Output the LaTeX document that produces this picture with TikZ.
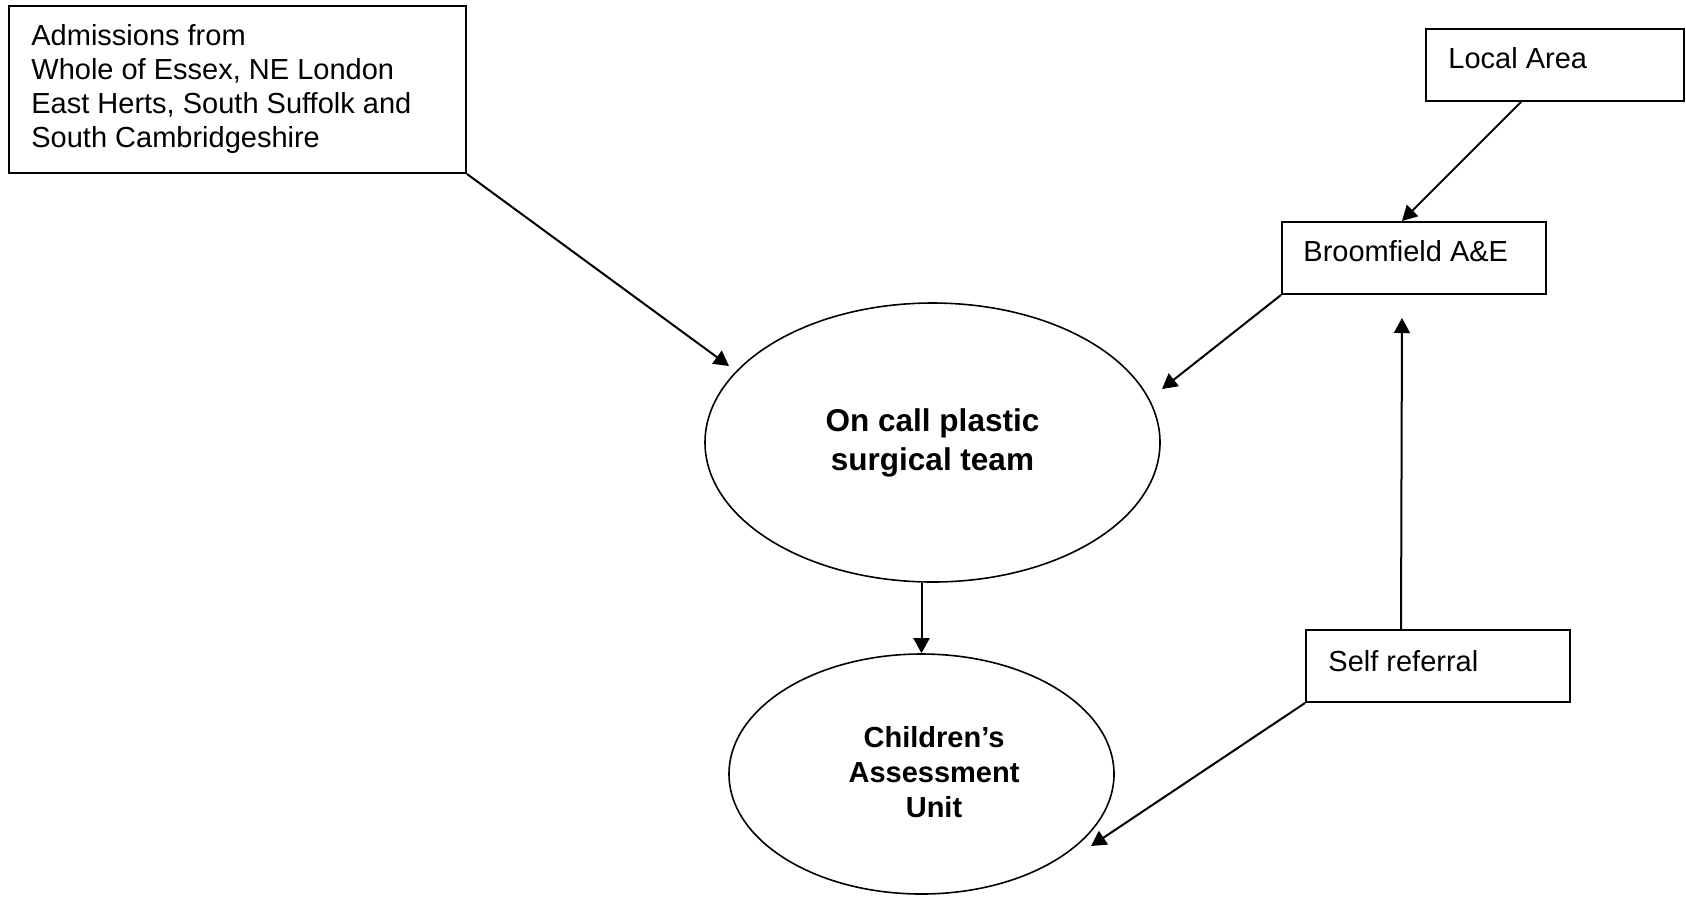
\documentclass[tikz,border=0pt]{standalone}
\usepackage{fontspec}
\setmainfont{Liberation Sans}
\usetikzlibrary{arrows.meta,shapes.geometric}
\begin{document}
\begin{tikzpicture}[x=0.5pt,y=-0.5pt,
  box/.style={draw, line width=1pt, rectangle, inner sep=0pt},
  oval/.style={draw, line width=0.8pt, ellipse, inner sep=0pt},
  plain/.style={inner sep=0pt, align=left, font=\fontsize{14.5}{17}\selectfont},
  boldtext/.style={inner sep=0pt, align=center, font=\bfseries\fontsize{14.5}{17.5}\selectfont},
  arr/.style={line width=1pt, -{Triangle[length=7.5pt,width=8pt]}}]
\useasboundingbox (0,0) rectangle (1686,896);

% source boxes (text placed by the baseline of its last line)
\node[box, minimum width=228.5pt, minimum height=83.5pt] (adm) at (237.5,89.5) {};
\node[plain, anchor=base west] (admT) at (31,147)
  {Admissions from\\Whole of Essex, NE London\\East Herts, South Suffolk and\\South Cambridgeshire};

\node[box, minimum width=129pt, minimum height=36pt] (loc) at (1555,65) {};
\node[plain, anchor=base west] (locT) at (1448,68) {Local Area};

\node[box, minimum width=132pt, minimum height=36pt] (bro) at (1414,258) {};
\node[plain, anchor=base west] (broT) at (1303,261) {Broomfield A\&E};

\node[box, minimum width=132pt, minimum height=36pt] (sel) at (1438,666) {};
\node[plain, anchor=base west] (selT) at (1328,671) {Self referral};

% receiving teams
\node[oval, minimum width=227.5pt, minimum height=139.5pt, align=center,
      font=\bfseries\fontsize{15.75}{19.5}\selectfont] (team) at (932.5,442.5)
  {On call plastic\\surgical team};

\node[oval, minimum width=192.5pt, minimum height=120pt] (cau) at (921.5,774) {};
\node[boldtext] (cauT) at (934,772.5) {Children’s\\Assessment\\Unit};

% arrow ends
\coordinate (admTip) at (729,366);
\coordinate (broTip) at (1162,389);
\coordinate (selTip) at (1091,846);
\coordinate (upTip) at (1402,318);

% connectors
\draw[arr] (adm.south east) -- (admTip);
\draw[arr] ([xshift=48pt]loc.south west) -- ([xshift=60.5pt]bro.north west);
\draw[arr] (bro.south west) -- (broTip);
\draw[arr] (cau.north |- team.south) -- (cau.north);
\draw[arr] ([xshift=48pt]sel.north west) -- (upTip);
\draw[arr] (sel.south west) -- (selTip);
\end{tikzpicture}
\end{document}
